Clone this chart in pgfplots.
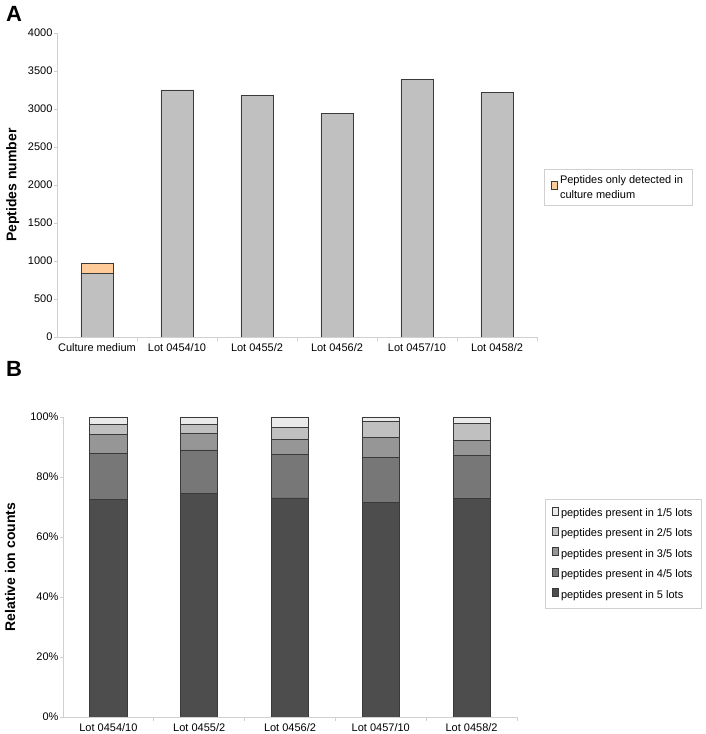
\documentclass[border=0pt]{standalone}
\usepackage{pgfplots}
\pgfplotsset{compat=1.18}
\usepackage{fontspec}
\setmainfont{Liberation Sans}
\definecolor{axgray}{HTML}{D0D0D0}
\definecolor{edge}{HTML}{3A3A3A}
\definecolor{barg}{HTML}{C0C0C0}
\definecolor{orng}{HTML}{FFCC99}
\definecolor{c5}{HTML}{4D4D4D}
\definecolor{c4}{HTML}{777777}
\definecolor{c3}{HTML}{969696}
\definecolor{c2}{HTML}{C0C0C0}
\definecolor{c1}{HTML}{EAEAEA}
\pgfplotsset{
  excel/.style={
    scale only axis,
    axis x line*=bottom, axis y line*=left,
    axis line style={draw=axgray, line width=0.8pt},
    tick style={draw=axgray, line width=0.8pt},
    tick align=outside,
    major tick length=3pt, minor tick length=4pt,
    major x tick style={draw=none},
    tick label style={font=\fontsize{11}{13}\selectfont},
    yticklabel style={xshift=2pt},
    /pgf/number format/.cd, 1000 sep={}, assume math mode=true, /pgfplots/.cd,
    y label style={font=\fontsize{14}{16}\selectfont\bfseries, anchor=north, inner sep=0pt},
    legend style={draw=axgray, fill=white, font=\fontsize{11}{15}\selectfont, cells={anchor=west, align=left}, inner xsep=7pt, inner ysep=5pt},
    legend image code/.code={\draw[##1, draw=edge, line width=0.8pt] (0pt,-4pt) rectangle (8pt,4pt);},
  }
}
\begin{document}
\begin{tikzpicture}
\path[use as bounding box] (0pt,0pt) rectangle (706pt,734pt);
\node[anchor=north west, font=\fontsize{22}{22}\selectfont\bfseries, inner sep=0pt] at (6pt,728pt) {A};
\node[anchor=north west, font=\fontsize{22}{22}\selectfont\bfseries, inner sep=0pt] at (6pt,373pt) {B};
\begin{axis}[excel,
  at={(57pt,397pt)}, anchor=south west, width=480pt, height=304pt,
  xmin=-0.5, xmax=5.5, ymin=0, ymax=4000,
  ybar stacked, bar width=32pt,
  xtick={0,1,2,3,4,5},
  xticklabels={Culture medium, Lot 0454/10, Lot 0455/2, Lot 0456/2, Lot 0457/10, Lot 0458/2},
  minor xtick={0.5,1.5,2.5,3.5,4.5,5.5},
  ytick={0,500,...,4000},
  ylabel={Peptides number},
  y label style={at={(axis description cs:-0.106,0.5)}},
  legend style={at={(axis description cs:1.0146,0.5526)}, anchor=north west, inner ysep=4pt},
]
\addplot[fill=barg, draw=edge, line width=0.8pt, forget plot] coordinates {(0,840) (1,3250) (2,3180) (3,2947) (4,3390) (5,3220)};
\addplot[fill=orng, draw=edge, line width=0.8pt] coordinates {(0,134) (1,0) (2,0) (3,0) (4,0) (5,0)};
\addlegendentry{Peptides only detected in\\culture medium}
\end{axis}
\begin{axis}[excel,
  at={(63pt,17pt)}, anchor=south west, width=454pt, height=300pt,
  xmin=-0.5, xmax=4.5, ymin=0, ymax=100,
  ybar stacked, bar width=37pt,
  xtick={0,1,2,3,4},
  xticklabels={Lot 0454/10, Lot 0455/2, Lot 0456/2, Lot 0457/10, Lot 0458/2},
  minor xtick={0.5,1.5,2.5,3.5,4.5},
  ytick={0,20,40,60,80,100},
  yticklabels={0\%,20\%,40\%,60\%,80\%,100\%},
  ylabel={Relative ion counts},
  y label style={at={(axis description cs:-0.128,0.5)}},
  reverse legend,
  legend style={at={(axis description cs:1.0617,0.7267)}, anchor=north west, row sep=7pt, inner ysep=7pt},
]
\addplot[fill=c5, draw=edge, line width=0.8pt] coordinates {(0,72.4) (1,74.6) (2,73.0) (3,71.5) (4,72.9)};
\addlegendentry{peptides present in 5 lots}
\addplot[fill=c4, draw=edge, line width=0.8pt] coordinates {(0,15.3) (1,14.4) (2,14.5) (3,15.0) (4,14.4)};
\addlegendentry{peptides present in 4/5 lots}
\addplot[fill=c3, draw=edge, line width=0.8pt] coordinates {(0,6.6) (1,5.5) (2,5.1) (3,6.8) (4,5.0)};
\addlegendentry{peptides present in 3/5 lots}
\addplot[fill=c2, draw=edge, line width=0.8pt] coordinates {(0,3.3) (1,3.1) (2,4.0) (3,5.3) (4,5.6)};
\addlegendentry{peptides present in 2/5 lots}
\addplot[fill=c1, draw=edge, line width=0.8pt] coordinates {(0,2.4) (1,2.4) (2,3.4) (3,1.4) (4,2.1)};
\addlegendentry{peptides present in 1/5 lots}
\end{axis}
\end{tikzpicture}
\end{document}
